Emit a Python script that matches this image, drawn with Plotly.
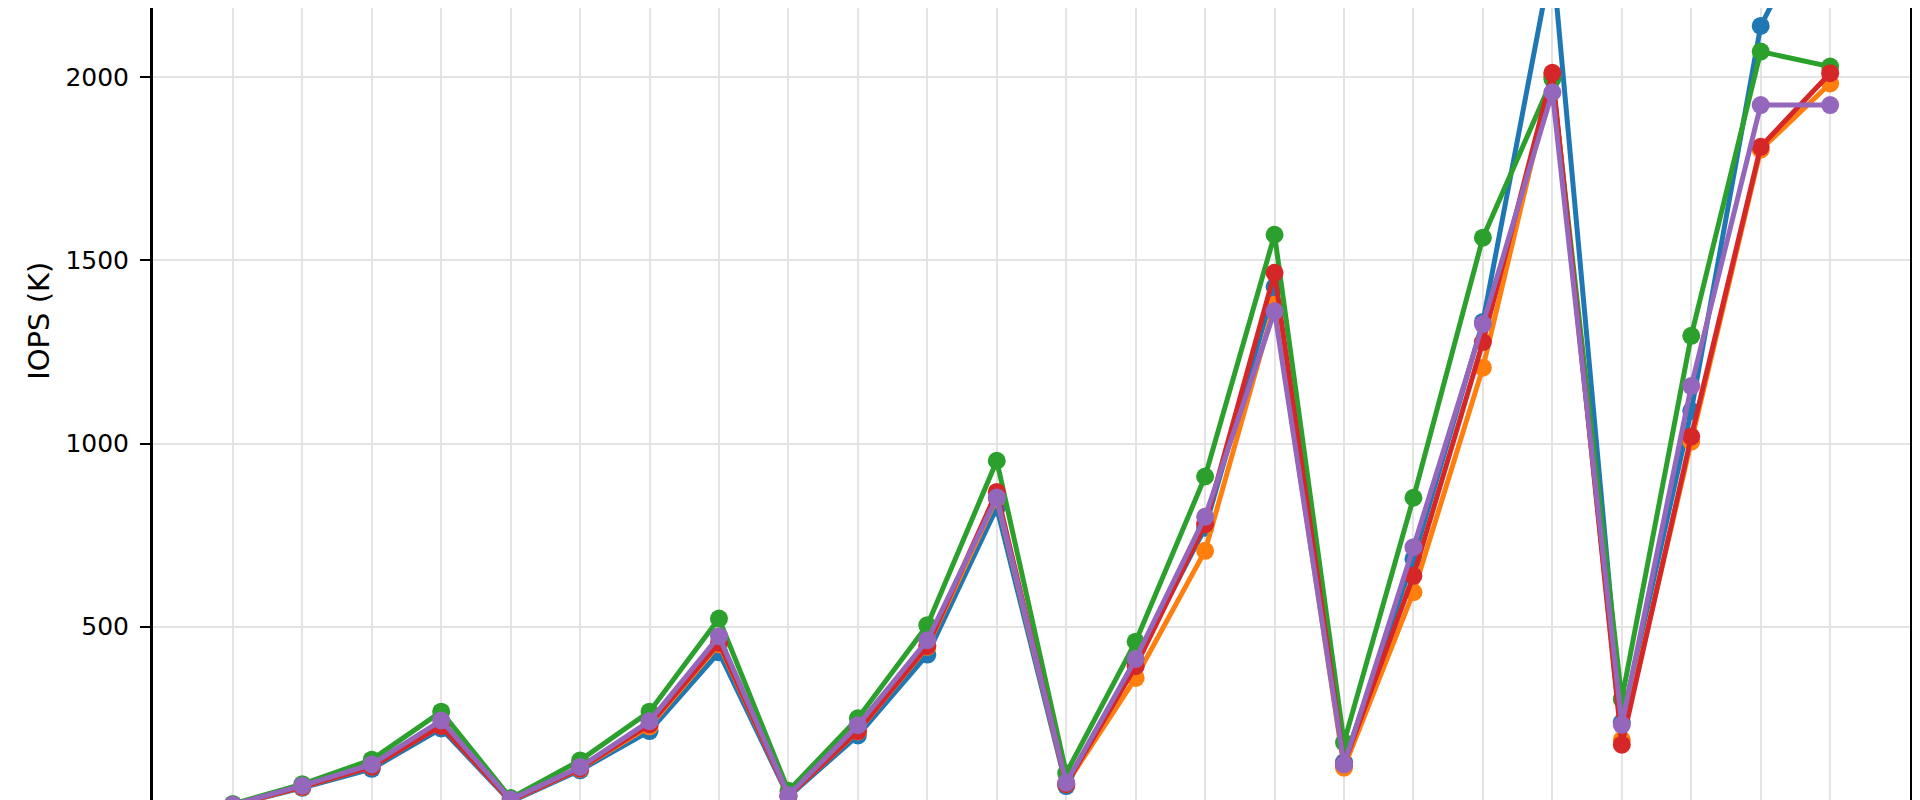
import plotly.graph_objects as go

x_idx = list(range(24))
blue = [13, 60, 112, 222, 22, 108, 215, 430, 36, 203, 424, 825, 65, 404, 770, 1428, 130, 685, 1332, 2330, 239, 1089, 2140, 2510]
orange = [13, 62, 118, 230, 24, 112, 228, 452, 38, 214, 445, 850, 70, 360, 707, 1379, 115, 594, 1207, 2005, 191, 1005, 1802, 1983]
green = [16, 70, 137, 268, 32, 135, 268, 522, 52, 250, 504, 953, 100, 459, 910, 1570, 184, 852, 1562, 1995, 302, 1294, 2070, 2029]
red = [13, 63, 118, 229, 25, 113, 233, 456, 38, 215, 447, 868, 70, 392, 780, 1466, 125, 639, 1277, 2012, 178, 1019, 1810, 2011]
purple = [14, 66, 124, 244, 28, 117, 242, 474, 40, 231, 463, 853, 74, 412, 800, 1361, 124, 717, 1326, 1959, 232, 1157, 1924, 1924]

series = [
    ("Series 1", blue, "#1f77b4"),
    ("Series 2", orange, "#ff7f0e"),
    ("Series 3", green, "#2ca02c"),
    ("Series 4", red, "#d62728"),
    ("Series 5", purple, "#9467bd"),
]
y_ticks = [0, 500, 1000, 1500, 2000]
y_title = "IOPS (K)"

FONT = "DejaVu Sans"
fig = go.Figure()
for name, vals, col in series:
    fig.add_trace(go.Scatter(
        x=x_idx, y=vals, name=name, mode="lines+markers",
        line=dict(color=col, width=5),
        marker=dict(color=col, size=18),
    ))

fig.update_layout(
    width=1920, height=800,
    margin=dict(l=145, r=18, t=0, b=0, pad=0),
    plot_bgcolor="white", paper_bgcolor="white",
    showlegend=False,
    font=dict(family=FONT, color="black"),
)
fig.update_xaxes(
    range=[-1.15, 24.15], tickvals=x_idx, showticklabels=False,
    showgrid=True, gridcolor="#e4e4e4", gridwidth=2,
    zeroline=False, showline=False, ticks="",
)
fig.update_yaxes(
    range=[5, 2189], tickvals=y_ticks, ticktext=[str(v) for v in y_ticks],
    showgrid=True, gridcolor="#e4e4e4", gridwidth=2, zeroline=False,
    showline=True, linecolor="black", linewidth=3, mirror=True,
    ticks="outside", ticklen=10, tickwidth=2, tickcolor="black",
    ticklabelstandoff=6,
    tickfont=dict(family=FONT, size=25, color="black"),
)
fig.add_annotation(
    text=str(y_ticks[0]), xref="paper", x=0, xshift=-20, xanchor="right",
    yref="y", y=y_ticks[0], yanchor="middle", showarrow=False,
    font=dict(family=FONT, size=25, color="black"),
)
fig.add_annotation(
    text=y_title, xref="paper", x=0, xshift=-114, xanchor="center",
    yref="y", y=1335, yanchor="middle", textangle=-90, showarrow=False,
    font=dict(family=FONT, size=29, color="black"),
)
fig.write_html("out.html")
